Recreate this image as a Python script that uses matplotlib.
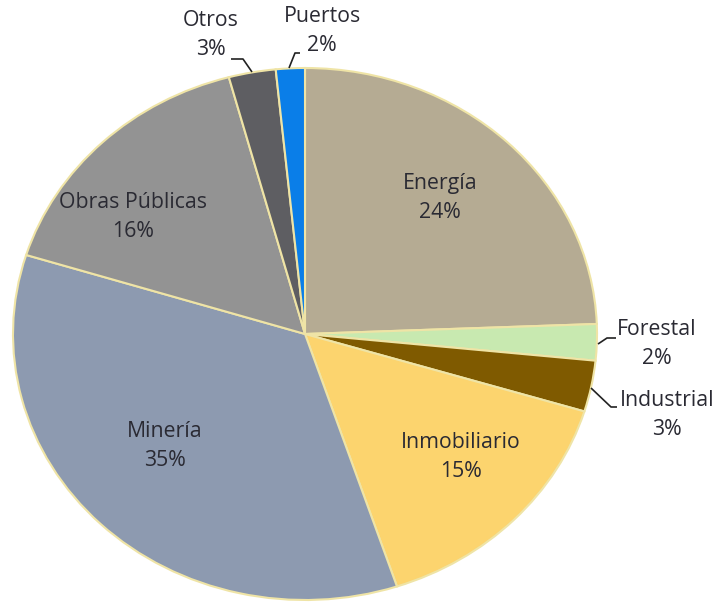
import matplotlib
matplotlib.use("Agg")
import matplotlib.pyplot as plt
import numpy as np

categories = ["Energía", "Forestal", "Industrial", "Inmobiliario", "Minería",
              "Obras Públicas", "Otros", "Puertos"]
values = [24.4, 2.2, 3.1, 15.2, 34.9, 16.0, 2.6, 1.6]
colors = ["#b5ab93", "#c8e9b0", "#7f5a00", "#fcd46e", "#8d9ab0",
          "#939393", "#5e5e62", "#0a7ee8"]

# layout: pixel-to-data helpers (pie centre at 305,334 px; radii 292 x 266 px)
CX, CY, RX, RY = 305, 334, 292, 266
def d(px, py):
    return ((px - CX) / RX, (CY - py) / RY)

inside_pos = {"Energía": d(440, 198), "Inmobiliario": d(461, 457),
              "Minería": d(165, 446), "Obras Públicas": d(133, 217)}
outside = {  # text centre (px), leader points (px)
    "Forestal": ((657, 344), [(598, 344), (607, 338), (616, 338)]),
    "Industrial": ((667, 415), [(591, 388), (611, 407), (617, 407)]),
    "Otros": ((211, 35), [(252, 72), (243, 59), (231, 59)]),
    "Puertos": ((322, 31), [(289, 68), (295, 53), (300, 53)]),
}

plt.rcParams['font.family'] = ['Open Sans', 'DejaVu Sans']
fig = plt.figure(figsize=(7.17, 6.02), dpi=100)
ax = fig.add_axes([0, 0, 1, 1])

wedges, _ = ax.pie(values, colors=colors, startangle=90, counterclock=False,
                   wedgeprops=dict(edgecolor="#efe4a6", linewidth=1.5))
ax.set_aspect('auto')
ax.set_xlim(-CX / RX, (717 - CX) / RX)
ax.set_ylim(-(602 - CY) / RY, CY / RY)
ax.axis('off')

total = sum(values)
tc = "#2a2a33"
fs = 15.3
for w, cat, v in zip(wedges, categories, values):
    pct = f"{round(v / total * 100):.0f}%"
    if cat in inside_pos:
        x, y = inside_pos[cat]
    else:
        (tpx, tpy), pts = outside[cat]
        x, y = d(tpx, tpy)
        xs, ys = zip(*[d(*p) for p in pts])
        ax.plot(xs, ys, color="#222222", lw=1.2, solid_capstyle="butt")
    ax.text(x, y, f"{cat}\n{pct}", ha="center", va="center", fontsize=fs,
            color=tc, linespacing=1.45)

fig.savefig("out.png", dpi=100, facecolor="white")
